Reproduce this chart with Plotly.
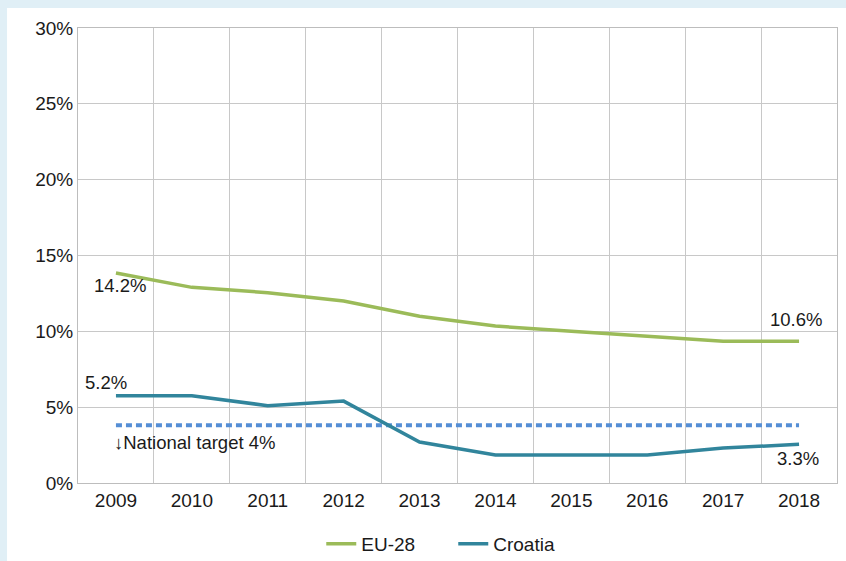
import plotly.graph_objects as go

years = ["2009", "2010", "2011", "2012", "2013", "2014", "2015", "2016", "2017", "2018"]
eu28 = [13.85, 12.9, 12.55, 12.0, 11.0, 10.35, 10.0, 9.65, 9.35, 9.35]
croatia = [5.75, 5.75, 5.1, 5.4, 2.7, 1.85, 1.85, 1.85, 2.3, 2.55]
target = [3.8] * len(years)
y_ticks = [0, 5, 10, 15, 20, 25, 30]

font = "Liberation Sans, Arial, sans-serif"

fig = go.Figure()
fig.add_trace(go.Scatter(x=years, y=target, mode="lines", showlegend=False,
                         line=dict(color="#558ed5", width=4, dash="6px,4px"), hoverinfo="skip"))
fig.add_trace(go.Scatter(x=years, y=eu28, mode="lines", name="EU-28",
                         line=dict(color="#9bbb59", width=3.5)))
fig.add_trace(go.Scatter(x=years, y=croatia, mode="lines", name="Croatia",
                         line=dict(color="#31859c", width=3.5)))

# text labels on the lines (x given as category index)
notes = [
    (0, 13.0, "14.2%", 4, "center"),
    (0, 6.65, "5.2%", -10, "center"),
    (9, 10.75, "10.6%", -3, "center"),
    (9, 1.6, "3.3%", -1, "center"),
    (0, 2.65, "<b>↓</b>National target 4%", -4, "left"),
]
for x, y, txt, dx, anchor in notes:
    fig.add_annotation(x=x, y=y, text=txt, showarrow=False, xshift=dx, xanchor=anchor,
                       font=dict(size=18.5, color="#1a1a1a", family=font))

# white card on the light blue background
fig.add_shape(type="rect", xref="paper", yref="paper", x0=-0.0935, x1=1.05, y0=-0.3, y1=1.044,
              fillcolor="white", line=dict(width=0), layer="below")

fig.update_layout(
    width=846, height=561,
    margin=dict(l=78, r=9, t=28, b=78, autoexpand=False),
    paper_bgcolor="#e0eff6",
    plot_bgcolor="white",
    font=dict(family=font, size=19, color="#1a1a1a"),
    legend=dict(orientation="h", x=0.3205, xanchor="left", y=-0.092, yanchor="top",
                entrywidth=87, font=dict(size=19), bgcolor="rgba(0,0,0,0)"),
)
fig.update_xaxes(type="category", categoryorder="array", categoryarray=years,
                 range=[-0.5, 9.5], tickson="boundaries", showgrid=True, gridcolor="#c8c8c8",
                 gridwidth=1, showline=True, linecolor="#bdbdbd", mirror=True,
                 ticks="", tickangle=0, tickfont=dict(size=19))
fig.update_yaxes(range=[0, 30], tickvals=y_ticks, ticktext=[f"{v}%" for v in y_ticks],
                 showgrid=True, gridcolor="#c8c8c8", gridwidth=1, showline=True,
                 linecolor="#bdbdbd", mirror=True, zeroline=False, ticks="",
                 tickfont=dict(size=19))

fig.write_html("out.html", config={"displayModeBar": False},
               post_script="document.body.style.margin='0';")
